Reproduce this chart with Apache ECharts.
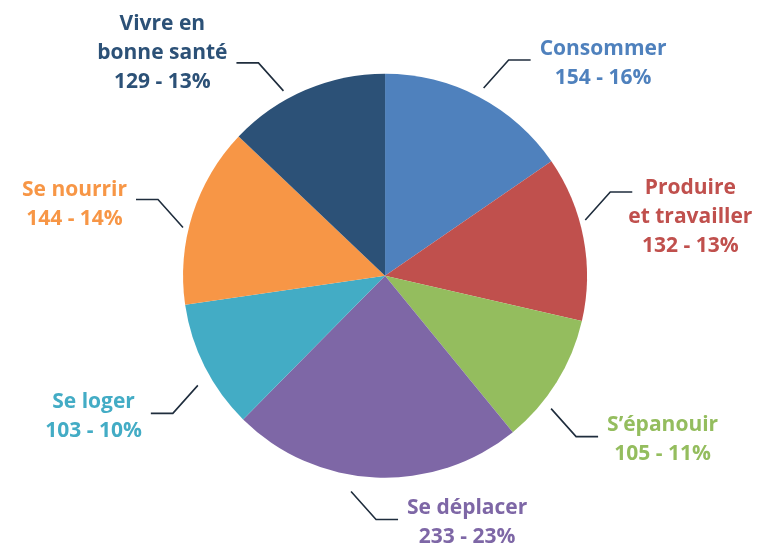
<!DOCTYPE html>
<html>
<head>
<meta charset="utf-8">
<script src="https://cdn.jsdelivr.net/npm/echarts@6/dist/echarts.min.js"></script>
<style>
  html, body { margin: 0; padding: 0; background: #fff; }
  #chart { width: 767px; height: 546px; }
</style>
</head>
<body>
<div id="chart"></div>
<script>
// categories and values, clockwise from the top
var names = ['Consommer', 'Produire\net travailler', 'S\u2019épanouir', 'Se déplacer', 'Se loger', 'Se nourrir', 'Vivre en\nbonne santé']
var values = [154, 132, 105, 233, 103, 144, 129]
var colors = ['#4f81bd', '#c0504d', '#94bd5e', '#7e67a6', '#43acc5', '#f79646', '#2c5177']
// label layout tweaks: side (1 right, -1 left), leader shift [dx, dy], text shift [dx, dy]
var labelSide = [1, 1, 1, 1, -1, -1, -1]
var leaderShift = [[0, 0], [-8, -16], [-14, 21], [-24, 4], [2, 14], [0, 16], [-18, 10]]
var textShift = [[0, 0], [-13, 22], [0, 0], [0, 0], [0, 0], [0, 2], [0, -13]]

var myChart = echarts.init(document.getElementById('chart'))

var pieData = names.map(function (n, i) {
  return { name: n, value: values[i], itemStyle: { color: colors[i] } }
})
var labelData = names.map(function (n, i) {
  return {
    name: n,
    value: values[i],
    itemStyle: { color: 'rgba(0,0,0,0)' },
    label: { color: colors[i] }
  }
})

var center = ['50.2%', '50.5%']

var option = {
  animation: false,
  series: [
    {
      type: 'pie',
      center: center,
      radius: 202,
      startAngle: 90,
      clockwise: true,
      silent: true,
      label: { show: false },
      labelLine: { show: false },
      data: pieData
    },
    {
      // transparent copy carrying the labels
      type: 'pie',
      center: center,
      radius: 202,
      startAngle: 90,
      clockwise: true,
      silent: true,
      avoidLabelOverlap: false,
      percentPrecision: 0,
      label: {
        show: true,
        position: 'outside',
        fontFamily: 'Open Sans',
        fontWeight: 'bold',
        fontSize: 21,
        lineHeight: 29,
        formatter: function (p) {
          return p.name + '\n' + p.value + ' - ' + p.percent + '%'
        }
      },
      labelLine: {
        show: true,
        length: 30,
        length2: 20,
        lineStyle: { color: '#1f2d3d', width: 1.6 }
      },
      labelLayout: function (p) {
        var pts = p.labelLinePoints
        if (!pts) return {}
        var i = p.dataIndex
        var dx = pts[1][0] - pts[0][0]
        var dy = pts[1][1] - pts[0][1]
        var len = Math.sqrt(dx * dx + dy * dy) || 1
        var ux = dx / len, uy = dy / len
        var sx = labelSide[i]
        var sy = uy < 0 ? -1 : 1
        var p0 = [pts[0][0] + ux * 10 + leaderShift[i][0], pts[0][1] + uy * 10 + leaderShift[i][1]]
        var p1 = [p0[0] + sx * 25, p0[1] + sy * 28]
        var p2 = [p1[0] + sx * 22, p1[1]]
        var w = p.labelRect.width
        return {
          x: p2[0] + sx * (9 + w / 2) + textShift[i][0],
          y: p2[1] + 3 + textShift[i][1],
          align: 'center',
          verticalAlign: 'middle',
          labelLinePoints: [p0, p1, p2]
        }
      },
      data: labelData
    }
  ]
}
myChart.setOption(option)
</script>
</body>
</html>
